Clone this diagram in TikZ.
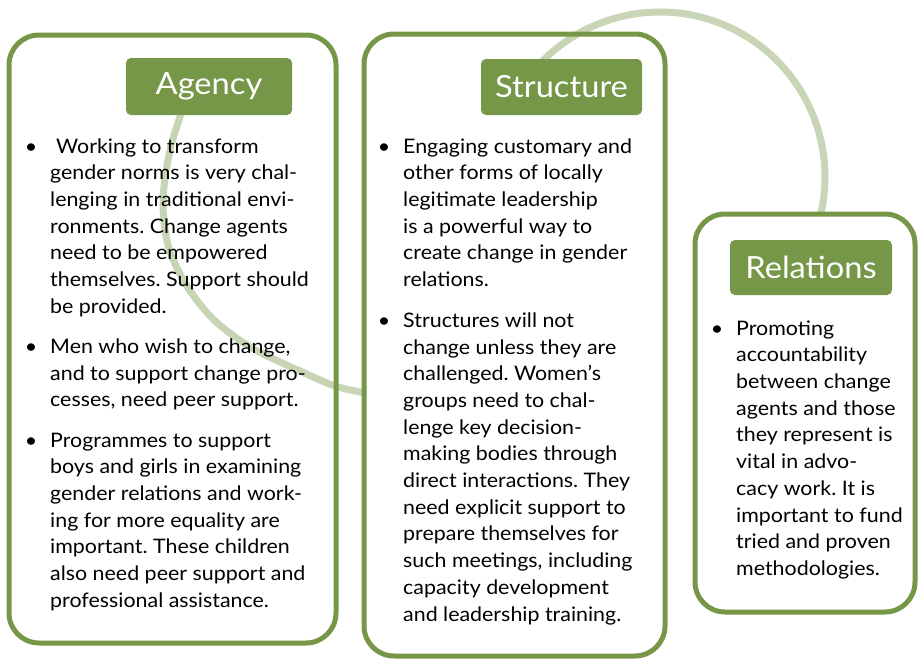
\documentclass[tikz,border=0pt]{standalone}
\usepackage{fontspec}
\setmainfont[FakeStretch=1.07]{Lato}
\definecolor{leafgreen}{RGB}{118,150,72}
\newcommand{\itemdot}{\llap{\textbullet\hspace{13pt}}}
\frenchspacing

\begin{document}
\begin{tikzpicture}[x=1pt, y=-1pt,
    panel/.style={draw=leafgreen, line width=5pt, fill=white, rounded corners=30pt, inner sep=0pt},
    headbox/.style={fill=leafgreen, rounded corners=5pt, text=white, inner sep=0pt,
        font=\fontsize{30.5}{34}\selectfont},
    itemtext/.style={anchor=north west, align=left, inner sep=0pt,
        font=\fontsize{20}{26.7}\selectfont},
    ring/.style={draw=leafgreen, draw opacity=0.4, line width=7pt}]
    \useasboundingbox (0,0) rectangle (919,659);

    \node[panel, minimum width=327pt, minimum height=608pt] (agencybox) at (172.5,339) {};
    \node[panel, minimum width=301pt, minimum height=622pt] (structurebox) at (514.5,345) {};

    % the two light rings
    \coordinate (ringcentre) at (660,177);
    \draw[ring] plot[smooth] coordinates {(183,108) (170,150) (163,200) (168,245) (185,283)
        (212,318) (250,347) (300,371) (335,386) (365,393)};
    \draw[ring] ([shift={(140:165pt)}]ringcentre) arc[start angle=140, end angle=-13, radius=165pt];

    \node[panel, minimum width=220pt, minimum height=398pt] (relationsbox) at (805,413) {};

    \node[headbox, minimum width=166pt, minimum height=57pt] (agency) at (209,86.5) {Agency};
    \node[headbox, minimum width=161pt, minimum height=56pt] (structure) at (561.5,87) {Structure};
    \node[headbox, minimum width=162pt, minimum height=55pt] (relations) at (811,267.5) {Relations};

    \node[itemtext] (agencytext) at (50,134.3) {\strut\itemdot\hspace{6pt}Working to transform\\
        gender norms is very chal-\\ lenging in traditional envi-\\ ronments. Change agents\\
        need to be empowered\\ themselves. Support should\\ be provided.\\[13.5pt]
        \itemdot Men who wish to change,\\ and to support change pro-\\
        cesses, need peer support.\\[13.5pt]
        \itemdot Programmes to support\\ boys and girls in examining\\ gender relations and work-\\
        ing for more equality are\\ important. These children\\ also need peer support and\\
        professional assistance.};

    \node[itemtext] (structuretext) at (403,134.3) {\strut\itemdot Engaging customary and\\
        other forms of locally\\ legitimate leadership\\ is a powerful way to\\
        create change in gender\\ relations.\\[14pt]
        \itemdot Structures will not\\ change unless they are\\ challenged. Women’s\\
        groups need to chal-\\ lenge key decision-\\ making bodies through\\
        direct interactions. They\\ need explicit support to\\ prepare themselves for\\
        such meetings, including\\ capacity development\\ and leadership training.};

    \node[itemtext] (relationstext) at (736,316.3) {\strut\itemdot Promoting\\ accountability\\
        between change\\ agents and those\\ they represent is\\ vital in advo-\\
        cacy work. It is\\ important to fund\\ tried and proven\\ methodologies.};
\end{tikzpicture}
\end{document}
